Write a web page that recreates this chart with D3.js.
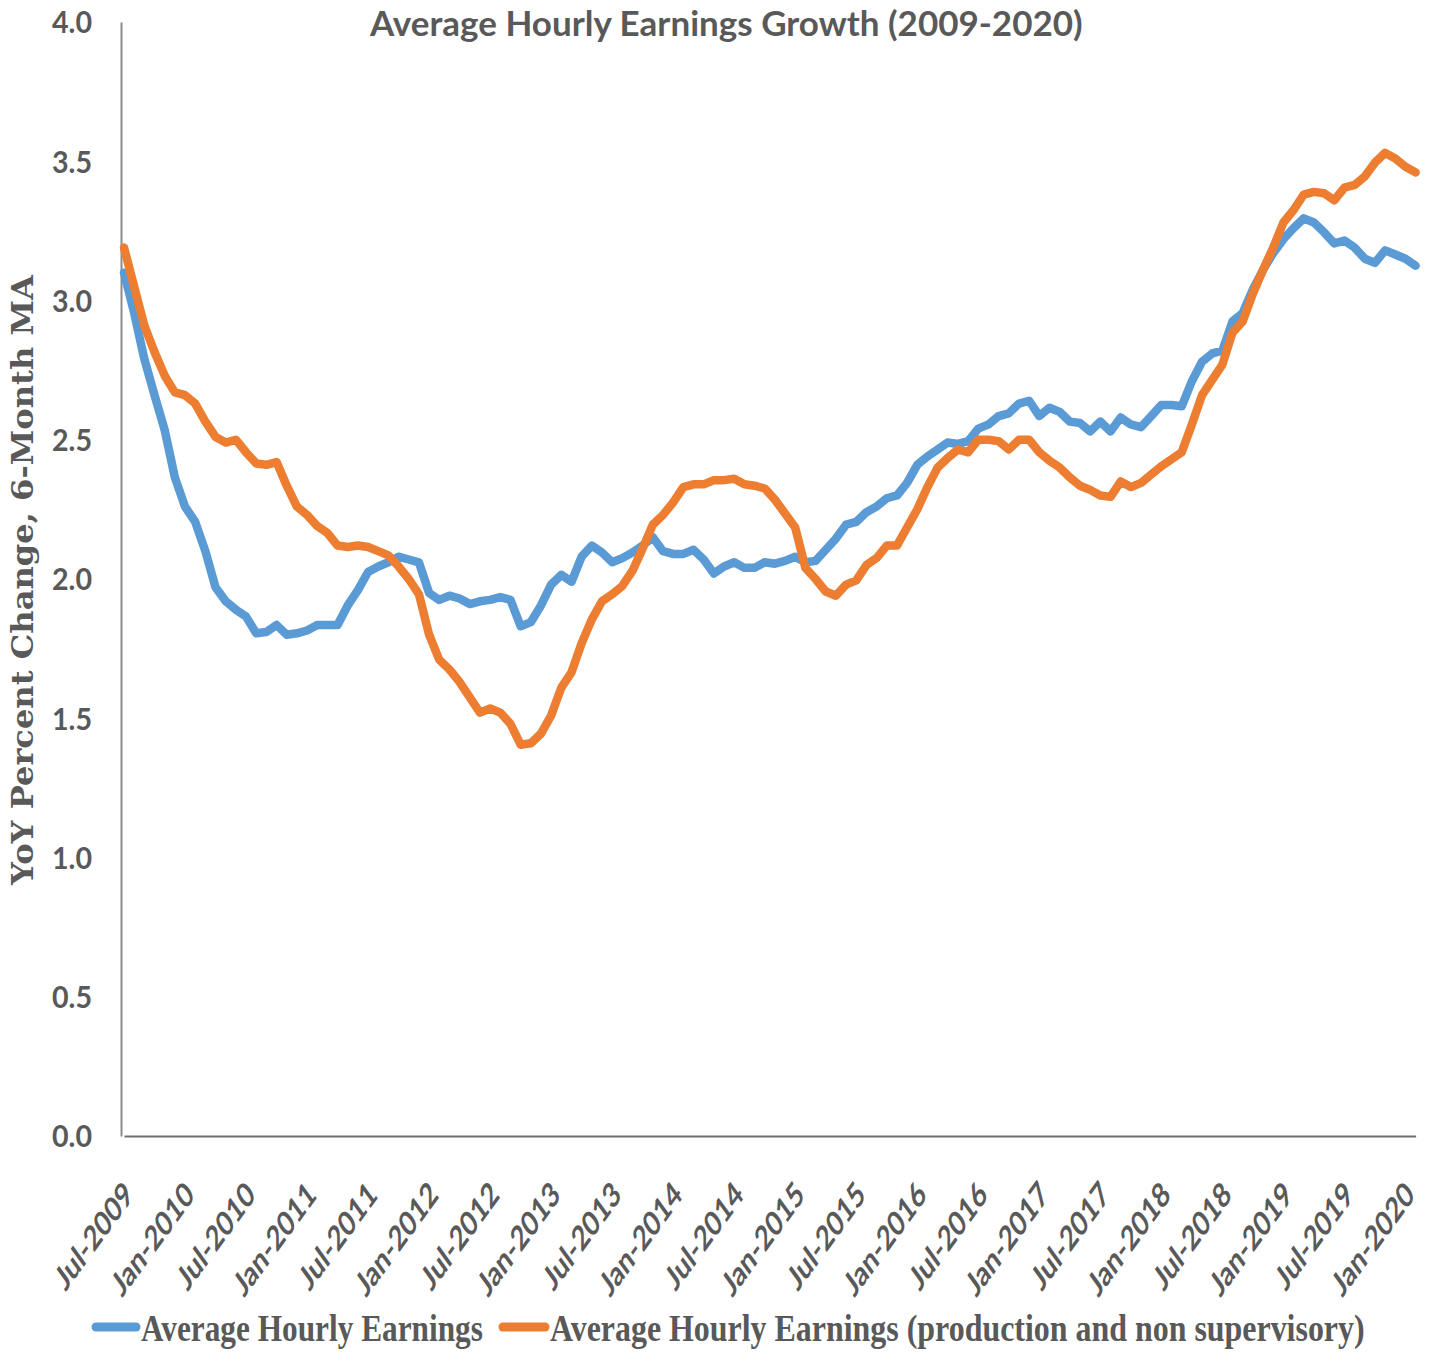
<!DOCTYPE html>
<html>
<head>
<meta charset="utf-8">
<script src="https://cdn.jsdelivr.net/npm/d3@7"></script>
<style>
  body { margin: 0; background: #fff; }
  svg { display: block; }
</style>
</head>
<body>
<script>
// monthly, Jul-2009 .. Feb-2020
const months = d3.timeMonth.range(new Date(2009, 6, 1), new Date(2020, 2, 1)).map(d3.timeFormat("%b-%Y"));

const tickLabels = ["Jul-2009", "Jan-2010", "Jul-2010", "Jan-2011", "Jul-2011", "Jan-2012", "Jul-2012",
  "Jan-2013", "Jul-2013", "Jan-2014", "Jul-2014", "Jan-2015", "Jul-2015", "Jan-2016", "Jul-2016",
  "Jan-2017", "Jul-2017", "Jan-2018", "Jul-2018", "Jan-2019", "Jul-2019", "Jan-2020"];

const yTicks = [0, 0.5, 1, 1.5, 2, 2.5, 3, 3.5, 4];

const ahe = [3.10, 2.955, 2.79, 2.66, 2.535, 2.365, 2.26, 2.205, 2.10, 1.97,
  1.92, 1.89, 1.865, 1.805, 1.81, 1.835, 1.80, 1.805, 1.815, 1.835,
  1.835, 1.835, 1.905, 1.96, 2.025, 2.045, 2.06, 2.08, 2.07, 2.06,
  1.95, 1.925, 1.94, 1.93, 1.91, 1.92, 1.925, 1.935, 1.925, 1.83,
  1.845, 1.905, 1.98, 2.015, 1.99, 2.08, 2.12, 2.095, 2.06, 2.075,
  2.095, 2.12, 2.15, 2.10, 2.09, 2.09, 2.105, 2.07, 2.02, 2.045,
  2.06, 2.04, 2.04, 2.06, 2.055, 2.065, 2.08, 2.06, 2.065, 2.105,
  2.145, 2.195, 2.205, 2.24, 2.26, 2.29, 2.30, 2.345, 2.41, 2.44,
  2.465, 2.49, 2.485, 2.495, 2.54, 2.555, 2.585, 2.595, 2.63, 2.64,
  2.585, 2.615, 2.60, 2.565, 2.56, 2.53, 2.565, 2.53, 2.58, 2.555,
  2.545, 2.585, 2.625, 2.625, 2.62, 2.71, 2.78, 2.81, 2.82, 2.925,
  2.955, 3.04, 3.11, 3.17, 3.22, 3.26, 3.295, 3.28, 3.245, 3.205,
  3.215, 3.19, 3.15, 3.135, 3.18, 3.165, 3.15, 3.125];

const aheProd = [3.19, 3.05, 2.91, 2.815, 2.73, 2.67, 2.66, 2.63, 2.565, 2.51,
  2.49, 2.50, 2.455, 2.415, 2.41, 2.42, 2.335, 2.26, 2.23, 2.19,
  2.165, 2.12, 2.115, 2.12, 2.115, 2.10, 2.085, 2.045, 2.00, 1.945,
  1.80, 1.71, 1.675, 1.63, 1.575, 1.52, 1.535, 1.52, 1.48, 1.405,
  1.41, 1.445, 1.51, 1.61, 1.665, 1.77, 1.855, 1.92, 1.945, 1.975,
  2.03, 2.11, 2.195, 2.23, 2.275, 2.33, 2.34, 2.34, 2.355, 2.355,
  2.36, 2.34, 2.335, 2.325, 2.285, 2.235, 2.185, 2.04, 2.00, 1.955,
  1.94, 1.98, 1.995, 2.05, 2.075, 2.12, 2.12, 2.185, 2.25, 2.33,
  2.40, 2.435, 2.465, 2.455, 2.50, 2.50, 2.495, 2.465, 2.50, 2.50,
  2.455, 2.425, 2.40, 2.365, 2.335, 2.32, 2.30, 2.295, 2.35, 2.33,
  2.345, 2.375, 2.405, 2.43, 2.455, 2.555, 2.66, 2.715, 2.77, 2.885,
  2.925, 3.025, 3.11, 3.19, 3.28, 3.325, 3.38, 3.39, 3.385, 3.36,
  3.405, 3.415, 3.445, 3.495, 3.53, 3.51, 3.48, 3.46];

const seriesNames = ["Average Hourly Earnings", "Average Hourly Earnings (production and non supervisory)"];
const colors = ["#5B9BD5", "#ED7D31"];

const w = 1431;
const h = 1355;
const textColor = "#595959";
const sans = "Lato, 'Open Sans', sans-serif";
const serif = "'Liberation Serif', 'DejaVu Serif', serif";

const svg = d3.select("body")
              .append("svg")
              .attr("width", w)
              .attr("height", h);

const xScale = d3.scalePoint()
                 .domain(months)
                 .range([124, 1415.6]);

const yScale = d3.scaleLinear()
                 .domain([0, 4])
                 .range([1136, 22]);

// squeeze a text horizontally to a given width
function fitText(sel, x, y, width, sy) {
  const natural = sel.node().getComputedTextLength();
  sel.attr("transform", "translate(" + x + "," + y + ") scale(" + (width / natural) + "," + sy + ")");
}

// title
const title = svg.append("text")
   .attr("font-family", sans)
   .attr("font-weight", "bold")
   .attr("font-size", 32)
   .attr("fill", textColor)
   .text("Average Hourly Earnings Growth (2009-2020)");
fitText(title, 370, 36, 713, 1.1);

// y axis
const yAxis = d3.axisLeft(yScale)
                .tickValues(yTicks)
                .tickFormat(d3.format(".1f"))
                .tickSize(0)
                .tickPadding(29);

const gy = svg.append("g")
              .attr("transform", "translate(121,0)")
              .call(yAxis);
gy.select(".domain").attr("stroke", "#8c8c8c").attr("stroke-width", 2);
gy.selectAll("text")
  .attr("font-family", sans)
  .attr("font-weight", "bold")
  .attr("font-size", 30)
  .attr("fill", textColor)
  .attr("dy", "0.36em")
  .attr("textLength", 40)
  .attr("lengthAdjust", "spacingAndGlyphs");

// x axis
const xAxis = d3.axisBottom(xScale)
                .tickValues(tickLabels)
                .tickSize(0)
                .tickSizeOuter(0);

const gx = svg.append("g")
              .attr("transform", "translate(0,1136)")
              .call(xAxis);
gx.select(".domain").attr("stroke", "#6e6e6e").attr("stroke-width", 2);
gx.selectAll("text")
  .attr("x", 0)
  .attr("y", 0)
  .attr("dy", "0.35em")
  .attr("text-anchor", "end")
  .attr("transform", "translate(4,52) scale(1,1.38) rotate(-45)")
  .attr("font-family", sans)
  .attr("font-weight", "bold")
  .attr("font-size", 25)
  .attr("fill", textColor);

// y axis title
svg.append("text")
   .attr("transform", "translate(33,580) rotate(-90)")
   .attr("text-anchor", "middle")
   .attr("font-family", "'DejaVu Serif', 'Liberation Serif', serif")
   .attr("font-weight", "bold")
   .attr("font-size", 29)
   .attr("fill", textColor)
   .attr("textLength", 610)
   .attr("lengthAdjust", "spacingAndGlyphs")
   .text("YoY Percent Change, 6-Month MA");

// lines
const line = d3.line()
               .x((d, i) => xScale(months[i]))
               .y(d => yScale(d));

[ahe, aheProd].forEach((s, k) => {
  svg.append("path")
     .datum(s)
     .attr("d", line)
     .attr("fill", "none")
     .attr("stroke", colors[k])
     .attr("stroke-width", 8.5)
     .attr("stroke-linejoin", "round")
     .attr("stroke-linecap", "round");
});

// legend
const legend = [
  { x1: 96, x2: 136, tx: 141, len: 342 },
  { x1: 503, x2: 545, tx: 550, len: 815 }
];
legend.forEach((l, k) => {
  svg.append("line")
     .attr("x1", l.x1).attr("x2", l.x2)
     .attr("y1", 1327).attr("y2", 1327)
     .attr("stroke", colors[k])
     .attr("stroke-width", 9)
     .attr("stroke-linecap", "round");
  const t = svg.append("text")
     .attr("font-family", serif)
     .attr("font-weight", "bold")
     .attr("font-size", 30)
     .attr("fill", textColor)
     .text(seriesNames[k]);
  fitText(t, l.tx, 1341, l.len, 1.25);
});
</script>
</body>
</html>
